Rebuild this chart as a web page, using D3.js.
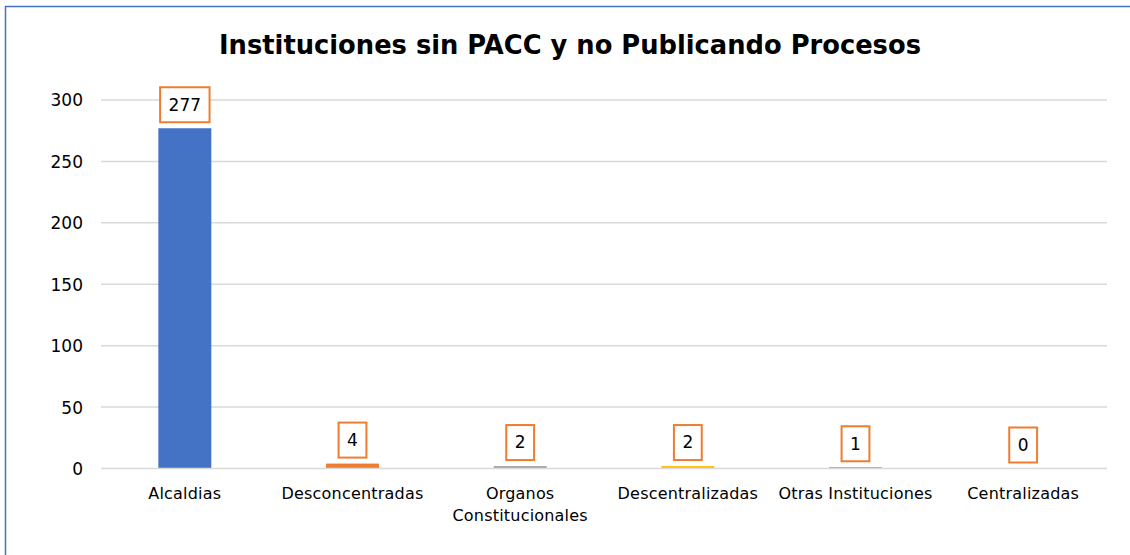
<!DOCTYPE html>
<html><head><meta charset="utf-8">
<script src="https://cdn.jsdelivr.net/npm/d3@7"></script>
<style>html,body{margin:0;padding:0;background:#fff;overflow:hidden}</style>
</head><body>
<svg id="c" width="1130" height="555"></svg>
<script>
const categories = ["Alcaldias","Desconcentradas","Organos\nConstitucionales","Descentralizadas","Otras Instituciones","Centralizadas"];
const values = [277, 4, 2, 2, 1, 0];
const colors = ["#4472C4","#ED7D31","#A5A5A5","#FFC000","#5B9BD5","#70AD47"];
const yTicks = [0, 50, 100, 150, 200, 250, 300];
const title = "Instituciones sin PACC y no Publicando Procesos";

const svg = d3.select("#c");
const font = "'DejaVu Sans', Verdana, sans-serif";

svg.append("rect").attr("x",0).attr("y",0).attr("width",1130).attr("height",555).attr("fill","#fff");
// chart border (cut off at right/bottom)
svg.append("rect").attr("x",5.5).attr("y",6.5).attr("width",1200).attr("height",600)
  .attr("fill","none").attr("stroke","#4472C4").attr("stroke-width",1.5);

const x = d3.scaleBand().domain(categories).range([101,1107]).paddingInner(0.684).paddingOuter(0.342);
const y = d3.scaleLinear().domain([0,300]).range([468.5,100]);

// gridlines
svg.append("g").selectAll("line").data(yTicks.filter(d=>d>0)).join("line")
  .attr("x1",101).attr("x2",1107).attr("y1",d=>y(d)).attr("y2",d=>y(d))
  .attr("stroke","#D9D9D9").attr("stroke-width",1.5);

// y axis labels
const yAxis = d3.axisLeft(y).tickValues(yTicks).tickSize(0).tickPadding(0);
const ya = svg.append("g").attr("transform","translate(83,0)").call(yAxis);
ya.select(".domain").remove();
ya.selectAll("text").attr("font-family",font).attr("font-size",17).attr("fill","#000").attr("dy","0.35em");

// bars
svg.append("g").selectAll("rect").data(values).join("rect")
  .attr("x",(d,i)=>x(categories[i])).attr("width",x.bandwidth())
  .attr("y",d=>y(d)).attr("height",d=>y(0)-y(d))
  .attr("fill",(d,i)=>colors[i]);

// x axis line
svg.append("line").attr("x1",101).attr("x2",1107).attr("y1",y(0)).attr("y2",y(0))
  .attr("stroke","#D9D9D9").attr("stroke-width",1.5);

// x labels
const xl = svg.append("g");
categories.forEach((c,i)=>{
  const lines = c.split("\n");
  const t = xl.append("text").attr("x",x(c)+x.bandwidth()/2).attr("y",499)
    .attr("text-anchor","middle").attr("font-family",font).attr("font-size",16)
    .attr("letter-spacing","0.2px").attr("fill","#000");
  lines.forEach((l,j)=>t.append("tspan").attr("x",x(c)+x.bandwidth()/2).attr("dy",j?22:0).text(l));
});

// data labels with boxes
const lab = svg.append("g");
values.forEach((v,i)=>{
  const cx = x(categories[i])+x.bandwidth()/2;
  const bottom = y(v)-6;
  const g = lab.append("g");
  const r = g.append("rect");
  const t = g.append("text").attr("x",cx).attr("y",bottom-17.5).attr("dy","0.35em")
    .attr("text-anchor","middle").attr("font-family",font).attr("font-size",17).attr("fill","#000").text(v);
  const w = t.node().getComputedTextLength()+17;
  r.attr("x",cx-w/2).attr("y",bottom-35).attr("width",w).attr("height",35)
    .attr("fill","#fff").attr("stroke","#ED7D31").attr("stroke-width",2);
});

// title
const tt = svg.append("text").attr("x",570).attr("y",54).attr("text-anchor","middle")
  .attr("font-family",font).attr("font-weight","bold").attr("font-size",27).attr("fill","#000").text(title);
const tw = tt.node().getComputedTextLength();
tt.attr("font-size", 27*702/tw);
</script>
</body></html>
